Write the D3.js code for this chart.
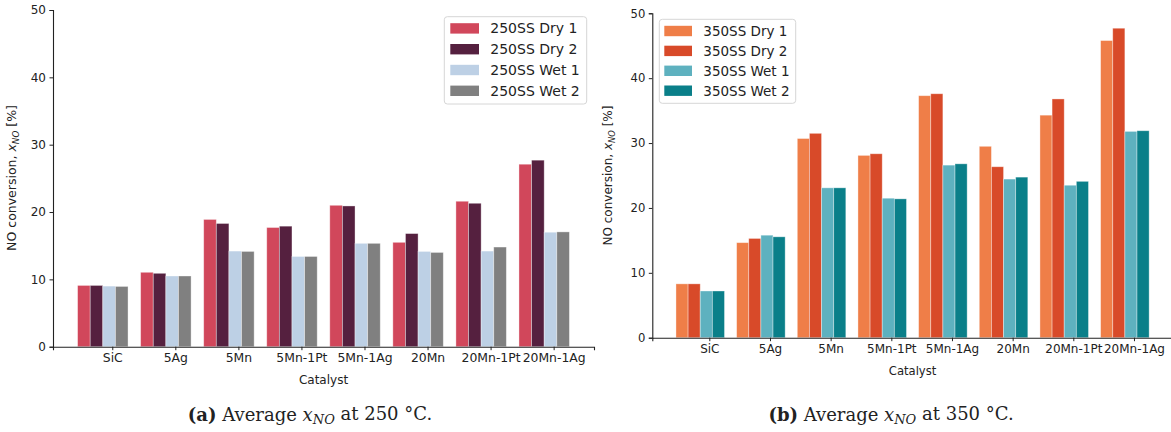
<!DOCTYPE html>
<html>
<head>
<meta charset="utf-8">
<script src="https://cdn.jsdelivr.net/npm/d3@7"></script>
<style>
  html, body { margin: 0; padding: 0; background: #fff; }
  svg { display: block; }
  text { font-family: "DejaVu Sans", sans-serif; fill: #222; }
  .caption text, text.caption { font-family: "DejaVu Serif", serif; }
</style>
</head>
<body>
<svg id="chart" width="1171" height="432"></svg>
<script>
// Catalysts on the x axis (shared by both panels)
const categories = ["SiC", "5Ag", "5Mn", "5Mn-1Pt", "5Mn-1Ag", "20Mn", "20Mn-1Pt", "20Mn-1Ag"];
const yTicks = [0, 10, 20, 30, 40, 50];

// Average NO conversion [%] at 250 °C
const series250 = ["250SS Dry 1", "250SS Dry 2", "250SS Wet 1", "250SS Wet 2"];
const dry1_250 = [9.1, 11.05, 18.9, 17.7, 21.0, 15.5, 21.6, 27.1];
const dry2_250 = [9.1, 10.9, 18.3, 17.9, 20.9, 16.8, 21.3, 27.7];
const wet1_250 = [9.0, 10.5, 14.2, 13.4, 15.35, 14.15, 14.2, 17.0];
const wet2_250 = [8.95, 10.5, 14.15, 13.4, 15.35, 14.0, 14.8, 17.05];
const colors250 = ["#d1475b", "#55203f", "#bdd0e5", "#808080"];

// Average NO conversion [%] at 350 °C
const series350 = ["350SS Dry 1", "350SS Dry 2", "350SS Wet 1", "350SS Wet 2"];
const dry1_350 = [8.3, 14.65, 30.7, 28.1, 37.3, 29.5, 34.3, 45.8];
const dry2_350 = [8.3, 15.3, 31.5, 28.35, 37.6, 26.35, 36.8, 47.7];
const wet1_350 = [7.2, 15.8, 23.1, 21.5, 26.6, 24.45, 23.5, 31.8];
const wet2_350 = [7.2, 15.55, 23.1, 21.4, 26.8, 24.75, 24.1, 31.9];
const colors350 = ["#ef7e48", "#d84a29", "#5eb1bf", "#0a7f89"];

const svg = d3.select("#chart");
const barW = 0.2;

function panel(cfg) {
  const g = svg.append("g");
  const x = d3.scaleLinear().domain([-0.79, 7.79]).range([cfg.x0, cfg.x1]);
  const y = d3.scaleLinear().domain([0, 50]).range([cfg.y0, cfg.y1]);
  const fs = cfg.fs;

  // bars: four per catalyst, centred on the group index
  cfg.values.forEach((vals, k) => {
    g.append("g").selectAll("rect")
      .data(vals)
      .join("rect")
      .attr("x", (d, i) => x(i - 0.4 + k * barW))
      .attr("width", x(barW) - x(0))
      .attr("y", d => y(d))
      .attr("height", d => y(0) - y(d))
      .attr("fill", cfg.colors[k])
      .attr("stroke", "#ffffff")
      .attr("stroke-opacity", 0.45)
      .attr("stroke-width", 0.8);
  });

  // x axis
  const xAxis = d3.axisBottom(x)
    .tickValues(categories.map((c, i) => i + 0.15))
    .tickFormat((d, i) => categories[i])
    .tickSize(3.5).tickPadding(3.5);
  const gx = g.append("g").attr("transform", `translate(0,${cfg.y0})`).call(xAxis);
  gx.select(".domain").attr("stroke", "#222").attr("stroke-width", 1.1);
  gx.selectAll(".tick line").attr("stroke", "#222");
  gx.selectAll("text").attr("font-size", cfg.xfs).attr("fill", "#222")
    .attr("font-family", "DejaVu Sans");

  // y axis
  const yAxis = d3.axisLeft(y).tickValues(yTicks).tickFormat(d3.format("d"))
    .tickSize(3.5).tickPadding(3.5);
  const gy = g.append("g").attr("transform", `translate(${cfg.x0},0)`).call(yAxis);
  gy.select(".domain").attr("stroke", "#222").attr("stroke-width", 1.1);
  gy.selectAll(".tick line").attr("stroke", "#222");
  gy.selectAll("text").attr("font-size", fs).attr("fill", "#222")
    .attr("font-family", "DejaVu Sans");

  // axis titles
  g.append("text")
    .attr("x", (cfg.x0 + cfg.x1) / 2).attr("y", cfg.y0 + 37)
    .attr("text-anchor", "middle").attr("font-size", fs)
    .text("Catalyst");

  const yl = g.append("text")
    .attr("transform", `translate(${cfg.ylabX},${cfg.ylabY}) rotate(-90)`)
    .attr("text-anchor", "middle").attr("font-size", cfg.ylabFs);
  yl.append("tspan").text("NO conversion, ");
  yl.append("tspan").attr("font-style", "italic").text("x");
  yl.append("tspan").attr("font-style", "italic").attr("font-size", cfg.ylabFs * 0.7)
    .attr("dy", "0.3em").text("NO");
  yl.append("tspan").attr("dy", "-0.21em").text(" [%]");

  // legend
  const L = cfg.legend;
  const lg = g.append("g");
  lg.append("rect")
    .attr("x", L.x).attr("y", L.y).attr("width", L.w).attr("height", L.h)
    .attr("rx", 3).attr("fill", "#fff").attr("fill-opacity", 0.85)
    .attr("stroke", "#d6d6d6").attr("stroke-width", 1);
  cfg.series.forEach((s, k) => {
    const cy = L.row0 + k * L.step;
    lg.append("rect")
      .attr("x", L.px).attr("y", cy - 5.2).attr("width", L.pw).attr("height", 10.4)
      .attr("fill", cfg.colors[k]);
    lg.append("text")
      .attr("x", L.tx).attr("y", cy).attr("dy", "0.36em")
      .attr("font-size", L.fs).text(s);
  });

  // caption below the panel
  const cap = svg.append("text")
    .attr("class", "caption")
    .attr("x", cfg.capX).attr("y", 421)
    .attr("text-anchor", "middle").attr("font-size", 18);
  cap.append("tspan").attr("font-weight", "bold").text(cfg.capTag);
  cap.append("tspan").text(" Average ");
  cap.append("tspan").attr("font-style", "italic").text("x");
  cap.append("tspan").attr("font-style", "italic").attr("font-size", 13)
    .attr("dy", "0.25em").text("NO");
  cap.append("tspan").attr("dy", "-0.25em").text(` at ${cfg.temp} °C.`);
}

panel({
  x0: 53, x1: 594, y0: 346.7, y1: 10, fs: 12, xfs: 12.4,
  values: [dry1_250, dry2_250, wet1_250, wet2_250],
  colors: colors250, series: series250,
  ylabX: 16, ylabY: 178, ylabFs: 12.5,
  legend: { x: 444.3, y: 16.7, w: 142.4, h: 87.3, px: 450.3, pw: 28.7,
            tx: 490.3, row0: 28.4, step: 20.8, fs: 14 },
  capX: 310, capTag: "(a)", temp: 250
});

panel({
  x0: 652.3, x1: 1172.8, y0: 337.7, y1: 13.3, fs: 11.6, xfs: 12,
  values: [dry1_350, dry2_350, wet1_350, wet2_350],
  colors: colors350, series: series350,
  ylabX: 612, ylabY: 175.5, ylabFs: 12,
  legend: { x: 659.3, y: 19.3, w: 136.4, h: 84, px: 664.3, pw: 27.7,
            tx: 703.3, row0: 31, step: 19.9, fs: 13.5 },
  capX: 891, capTag: "(b)", temp: 350
});
</script>
</body>
</html>
